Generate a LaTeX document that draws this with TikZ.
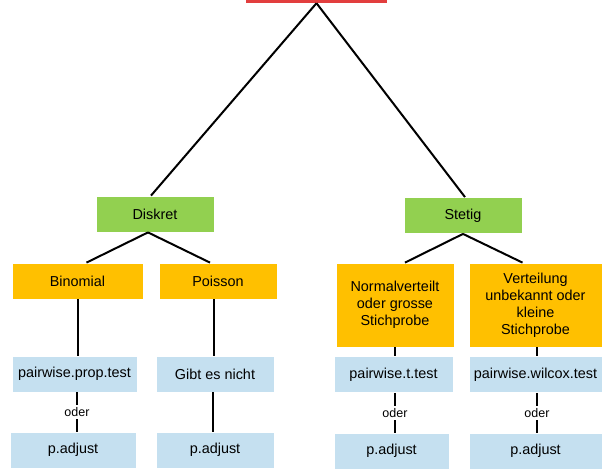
\documentclass[tikz,border=0pt]{standalone}
\usepackage{fontspec}
\setmainfont{Liberation Sans}
\definecolor{rootred}{RGB}{226,62,62}
\definecolor{catgreen}{RGB}{146,208,80}
\definecolor{distorange}{RGB}{255,192,0}
\definecolor{testblue}{RGB}{197,224,240}
\begin{document}
\begin{tikzpicture}[x=1pt,y=-1pt,
  box/.style={draw=white,line width=0.8pt,inner sep=0pt,align=center,
    font=\fontsize{14.4}{17}\selectfont},
  catbox/.style={box,fill=catgreen,minimum height=36pt},
  distbox/.style={box,fill=distorange},
  testbox/.style={box,fill=testblue,minimum height=36pt},
  link/.style={line width=2pt,black},
  orlabel/.style={fill=white,inner sep=2.5pt,font=\fontsize{12.5}{14}\selectfont}]
\clip (0,0) rectangle (607,472);
% top category bar, cut by the upper edge
\node[fill=rootred,minimum width=141pt,minimum height=30pt,inner sep=0pt] (root) at (316.5,-12) {};
% second level
\node[catbox,minimum width=118pt] (diskret) at (155,214) {Diskret};
\node[catbox,minimum width=118pt] (stetig) at (463,215.5) {Stetig};
% distributions
\node[distbox,minimum width=131pt,minimum height=36pt] (binom) at (77.5,281) {Binomial};
\node[distbox,minimum width=118pt,minimum height=36pt] (poisson) at (218,281) {Poisson};
\node[distbox,minimum width=118pt,minimum height=84pt] (normal) at (395,305) {Normalverteilt\\oder grosse\\Stichprobe};
\node[distbox,minimum width=133pt,minimum height=84pt] (unknown) at (535.5,305) {Verteilung\\unbekannt oder\\kleine\\Stichprobe};
% tests
\node[testbox,minimum width=125pt] (prop) at (74.5,374) {pairwise.prop.test};
\node[testbox,minimum width=118pt] (none) at (215,374) {Gibt es nicht};
\node[testbox,minimum width=119pt] (ttest) at (393.5,374.5) {pairwise.t.test};
\node[testbox,minimum width=133pt] (wilcox) at (535.5,374.5) {pairwise.wilcox.test};
% corrections
\node[testbox,minimum width=126pt] (adjA) at (73,450) {p.adjust};
\node[testbox,minimum width=118pt] (adjB) at (215,450) {p.adjust};
\node[testbox,minimum width=115pt] (adjC) at (391.5,451) {p.adjust};
\node[testbox,minimum width=133pt] (adjD) at (535.5,451) {p.adjust};
% connectors
\draw[link] (root.south) -- ([xshift=-4pt]diskret.north);
\draw[link] (root.south) -- ([xshift=2pt]stetig.north);
\draw[link] ([xshift=-7pt]diskret.south) -- ([xshift=9pt]binom.north);
\draw[link] ([xshift=-7pt]diskret.south) -- ([xshift=-8pt]poisson.north);
\draw[link] (stetig.south) -- ([xshift=10pt]normal.north);
\draw[link] (stetig.south) -- ([xshift=-13pt]unknown.north);
\draw[link] (binom.south) -- (binom.south |- prop.north);
\draw[link] ([xshift=-4pt]poisson.south) -- ([xshift=-4pt]poisson.south |- none.north);
\draw[link] (normal.south) -- (normal.south |- ttest.north);
\draw[link] ([xshift=1.5pt]unknown.south) -- ([xshift=1.5pt]unknown.south |- wilcox.north);
\draw[link] ([xshift=2.5pt]prop.south) -- node[orlabel] {oder} ([xshift=2.5pt]prop.south |- adjA.north);
\draw[link] ([xshift=-2pt]none.south) -- ([xshift=-2pt]none.south |- adjB.north);
\draw[link] ([xshift=1.5pt]ttest.south) -- node[orlabel] {oder} ([xshift=1.5pt]ttest.south |- adjC.north);
\draw[link] ([xshift=1.5pt]wilcox.south) -- node[orlabel] {oder} ([xshift=1.5pt]wilcox.south |- adjD.north);
\end{tikzpicture}
\end{document}
